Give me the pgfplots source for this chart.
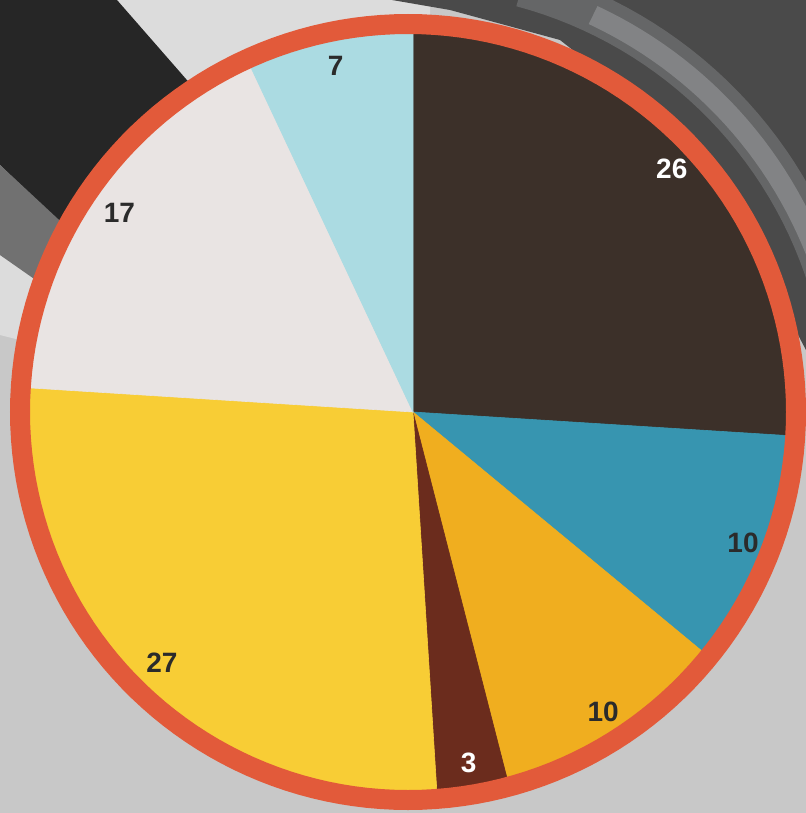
\documentclass[border=0pt]{standalone}
\usepackage{pgfplots}
\pgfplotsset{compat=1.18}
\usepackage{fontspec}
\setmainfont{Liberation Sans}
\definecolor{bgA}{HTML}{C8C8C8}
\definecolor{bgLight}{HTML}{DCDCDC}
\definecolor{bgDark}{HTML}{4A4A4A}
\definecolor{bgHalo}{HTML}{9A9C9E}
\definecolor{bgBlack}{HTML}{262626}
\definecolor{bgGrey}{HTML}{717171}
\definecolor{cA}{HTML}{3C3029}
\definecolor{cB}{HTML}{3795B0}
\definecolor{cC}{HTML}{F0AE1F}
\definecolor{cD}{HTML}{6B2C1D}
\definecolor{cE}{HTML}{F8CD35}
\definecolor{cF}{HTML}{E9E4E3}
\definecolor{cG}{HTML}{ABDBE2}
\definecolor{ring}{HTML}{E25A3A}
\definecolor{lab}{HTML}{2B2B2B}
\begin{document}
\begin{tikzpicture}
\def\cx{413}\def\cy{412}\def\R{385}\def\Rl{355}
\def\ox{408}\def\oy{412}
% slice values, clockwise from the top
\def\vA{26}\def\vB{10}\def\vC{10}\def\vD{3}\def\vE{27}\def\vF{17}\def\vG{7}
\pgfmathsetmacro\sA{0}
\pgfmathsetmacro\sB{\sA+3.6*\vA}
\pgfmathsetmacro\sC{\sB+3.6*\vB}
\pgfmathsetmacro\sD{\sC+3.6*\vC}
\pgfmathsetmacro\sE{\sD+3.6*\vD}
\pgfmathsetmacro\sF{\sE+3.6*\vE}
\pgfmathsetmacro\sG{\sF+3.6*\vF}
\pgfmathsetmacro\sH{\sG+3.6*\vG}
\begin{axis}[scale only axis, width=403pt, height=406.5pt,
  xmin=0, xmax=806, ymin=0, ymax=813, y dir=reverse, hide axis, clip=true]
% background
\fill[bgA] (axis cs:0,0) rectangle (axis cs:806,813);
\fill[bgLight] (axis cs:100,0) -- (axis cs:430,0) -- (axis cs:430,130) -- (axis cs:150,130) -- cycle;
\fill[bgLight] (axis cs:0,255) -- (axis cs:60,292) -- (axis cs:40,345) -- (axis cs:0,335) -- cycle;
\fill[bgDark] (axis cs:392,0) -- (axis cs:806,0) -- (axis cs:806,350) -- (axis cs:700,150) -- (axis cs:560,40) -- (axis cs:450,10) -- cycle;
\addplot[draw=bgHalo, opacity=0.35, line width=20pt, domain=15:90, samples=40] ({\ox+440*sin(x)},{\oy-440*cos(x)});
\addplot[draw=bgHalo, opacity=0.55, line width=10pt, domain=25:88, samples=40] ({\ox+438*sin(x)},{\oy-438*cos(x)});
\fill[bgBlack] (axis cs:0,0) -- (axis cs:117,0) -- (axis cs:200,95) -- (axis cs:110,200) -- (axis cs:70,232) -- (axis cs:0,165) -- cycle;
\fill[bgGrey] (axis cs:0,165) -- (axis cs:72,232) -- (axis cs:50,290) -- (axis cs:0,255) -- cycle;
% slices
\addplot[fill=cA, draw=cA, line width=0.3pt, domain=\sA:\sB, samples=60] ({\cx+\R*sin(x)},{\cy-\R*cos(x)}) -- (axis cs:\cx,\cy) -- cycle;
\addplot[fill=cB, draw=cB, line width=0.3pt, domain=\sB:\sC, samples=30] ({\cx+\R*sin(x)},{\cy-\R*cos(x)}) -- (axis cs:\cx,\cy) -- cycle;
\addplot[fill=cC, draw=cC, line width=0.3pt, domain=\sC:\sD, samples=30] ({\cx+\R*sin(x)},{\cy-\R*cos(x)}) -- (axis cs:\cx,\cy) -- cycle;
\addplot[fill=cD, draw=cD, line width=0.3pt, domain=\sD:\sE, samples=10] ({\cx+\R*sin(x)},{\cy-\R*cos(x)}) -- (axis cs:\cx,\cy) -- cycle;
\addplot[fill=cE, draw=cE, line width=0.3pt, domain=\sE:\sF, samples=60] ({\cx+\R*sin(x)},{\cy-\R*cos(x)}) -- (axis cs:\cx,\cy) -- cycle;
\addplot[fill=cF, draw=cF, line width=0.3pt, domain=\sF:\sG, samples=40] ({\cx+\R*sin(x)},{\cy-\R*cos(x)}) -- (axis cs:\cx,\cy) -- cycle;
\addplot[fill=cG, draw=cG, line width=0.3pt, domain=\sG:\sH, samples=20] ({\cx+\R*sin(x)},{\cy-\R*cos(x)}) -- (axis cs:\cx,\cy) -- cycle;
% ring
\addplot[draw=ring, line width=10pt, domain=0:360, samples=181] ({\ox+388*sin(x)},{\oy-388*cos(x)}) -- cycle;
% labels
\tikzset{lbl/.style={font=\bfseries\fontsize{14}{14}\selectfont, inner sep=0pt}}
\node[lbl, text=white] at (axis cs:{\cx+\Rl*sin((\sA+\sB)/2)},{\cy-\Rl*cos((\sA+\sB)/2)}) {\vA};
\node[lbl, text=lab] at (axis cs:{\cx+\Rl*sin((\sB+\sC)/2)},{\cy-\Rl*cos((\sB+\sC)/2)}) {\vB};
\node[lbl, text=lab] at (axis cs:{\cx+\Rl*sin((\sC+\sD)/2)},{\cy-\Rl*cos((\sC+\sD)/2)}) {\vC};
\node[lbl, text=white] at (axis cs:{\cx+\Rl*sin((\sD+\sE)/2)},{\cy-\Rl*cos((\sD+\sE)/2)}) {\vD};
\node[lbl, text=lab] at (axis cs:{\cx+\Rl*sin((\sE+\sF)/2)},{\cy-\Rl*cos((\sE+\sF)/2)}) {\vE};
\node[lbl, text=lab] at (axis cs:{\cx+\Rl*sin((\sF+\sG)/2)},{\cy-\Rl*cos((\sF+\sG)/2)}) {\vF};
\node[lbl, text=lab] at (axis cs:{\cx+\Rl*sin((\sG+\sH)/2)},{\cy-\Rl*cos((\sG+\sH)/2)}) {\vG};
\end{axis}
\end{tikzpicture}
\end{document}
